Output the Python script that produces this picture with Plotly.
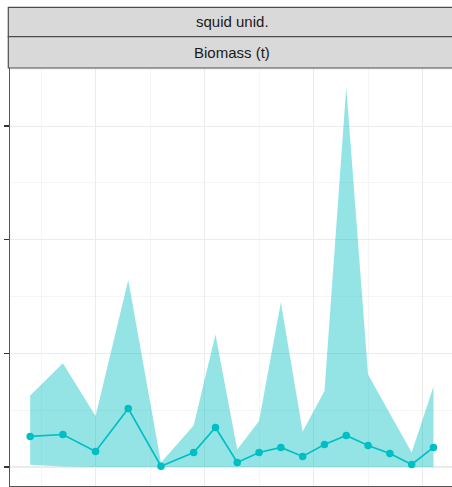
import plotly.graph_objects as go

# Survey years
years = [1984, 1987, 1990, 1993, 1996, 1999, 2001, 2003, 2005, 2007,
         2009, 2011, 2013, 2015, 2017, 2019, 2021]

# Biomass estimates (t)
biomass = [5380, 5720, 2740, 10300, 140, 2560, 6960, 800, 2560, 3440,
           1860, 3960, 5560, 3780, 2380, 440, 3440]

# Confidence bounds (t)
upper = [12600, 18240, 8960, 32920, 800, 7320, 23340, 3080, 8080, 28980,
         6260, 13360, 66880, 16300, 9420, 2560, 14180]
lower = [400, 100, 0, 0, 0, 0, 0, 0, 0, 0,
         0, 0, 0, 0, 0, 0, 0]

strip_labels = ["squid unid.", "Biomass (t)"]
y_tick_vals = [0, 20000, 40000, 60000]

COL = "#00BFC4"
W, H = 452, 487
ML, MR, MT, MB = 10, 0, 68, 1
pw = W - ML - MR
ph = H - MT - MB

fig = go.Figure()
fig.add_trace(go.Scatter(x=years, y=upper, mode="lines", line=dict(width=0, color=COL),
                         hoverinfo="skip", showlegend=False))
fig.add_trace(go.Scatter(x=years, y=lower, mode="lines", line=dict(width=0, color=COL),
                         fill="tonexty", fillcolor="rgba(0,191,196,0.42)",
                         hoverinfo="skip", showlegend=False))
fig.add_trace(go.Scatter(x=years, y=biomass, mode="lines+markers",
                         line=dict(color=COL, width=1.7),
                         marker=dict(color=COL, size=7.5), showlegend=False))

# ggplot-like 5% expansion
xr = max(years) - min(years)
x0 = min(years) - 0.05 * xr
ymax = max(upper)
y0 = -0.05 * ymax
y1 = ymax * 1.05
px_per_year = 10.9
x1 = x0 + pw / px_per_year

grid = "#EBEBEB"
fig.update_xaxes(range=[x0, x1], tick0=1990, dtick=10, showticklabels=False,
                 showgrid=True, gridcolor=grid, gridwidth=1.1, zeroline=False,
                 minor=dict(dtick=5, tick0=1985, showgrid=True, gridcolor="#F3F3F3", gridwidth=0.8),
                 showline=True, linecolor="#555555", linewidth=1,
                 ticks="", fixedrange=True, automargin=False)
fig.update_yaxes(range=[y0, y1], tickvals=y_tick_vals, showticklabels=False,
                 showgrid=True, gridcolor=grid, gridwidth=1.1, zeroline=False,
                 minor=dict(tickvals=[10000, 30000, 50000, 70000], showgrid=True,
                            gridcolor="#F3F3F3", gridwidth=0.8),
                 showline=True, linecolor="#555555", linewidth=1.2,
                 ticks="outside", ticklen=5, tickcolor="#333333", tickwidth=1.2,
                 fixedrange=True, automargin=False)

def py(p):
    return (H - MB - p) / ph

def pxp(p):
    return (p - ML) / pw

strip_edges = [7.3, 36.7, 68]
for i, lab in enumerate(strip_labels):
    fig.add_shape(type="rect", xref="paper", yref="paper",
                  x0=pxp(8.3), x1=pxp(470), y0=py(strip_edges[i + 1]), y1=py(strip_edges[i]),
                  fillcolor="#D9D9D9", line=dict(color="#4D4D4D", width=1.2), layer="above")
    fig.add_annotation(xref="paper", yref="paper", x=pxp(232), y=(py(strip_edges[i]) + py(strip_edges[i + 1])) / 2,
                       text=lab, showarrow=False, xanchor="center", yanchor="middle",
                       font=dict(family="Liberation Sans, Arial, sans-serif", size=15, color="#1A1A1A"))

fig.update_layout(width=W, height=H, margin=dict(l=ML, r=MR, t=MT, b=MB, autoexpand=False),
                  plot_bgcolor="white", paper_bgcolor="white", showlegend=False)

fig.write_html("out.html", config={"displayModeBar": False, "staticPlot": True},
               post_script="document.body.style.margin='0';document.body.style.padding='0';document.body.style.overflow='hidden';")
